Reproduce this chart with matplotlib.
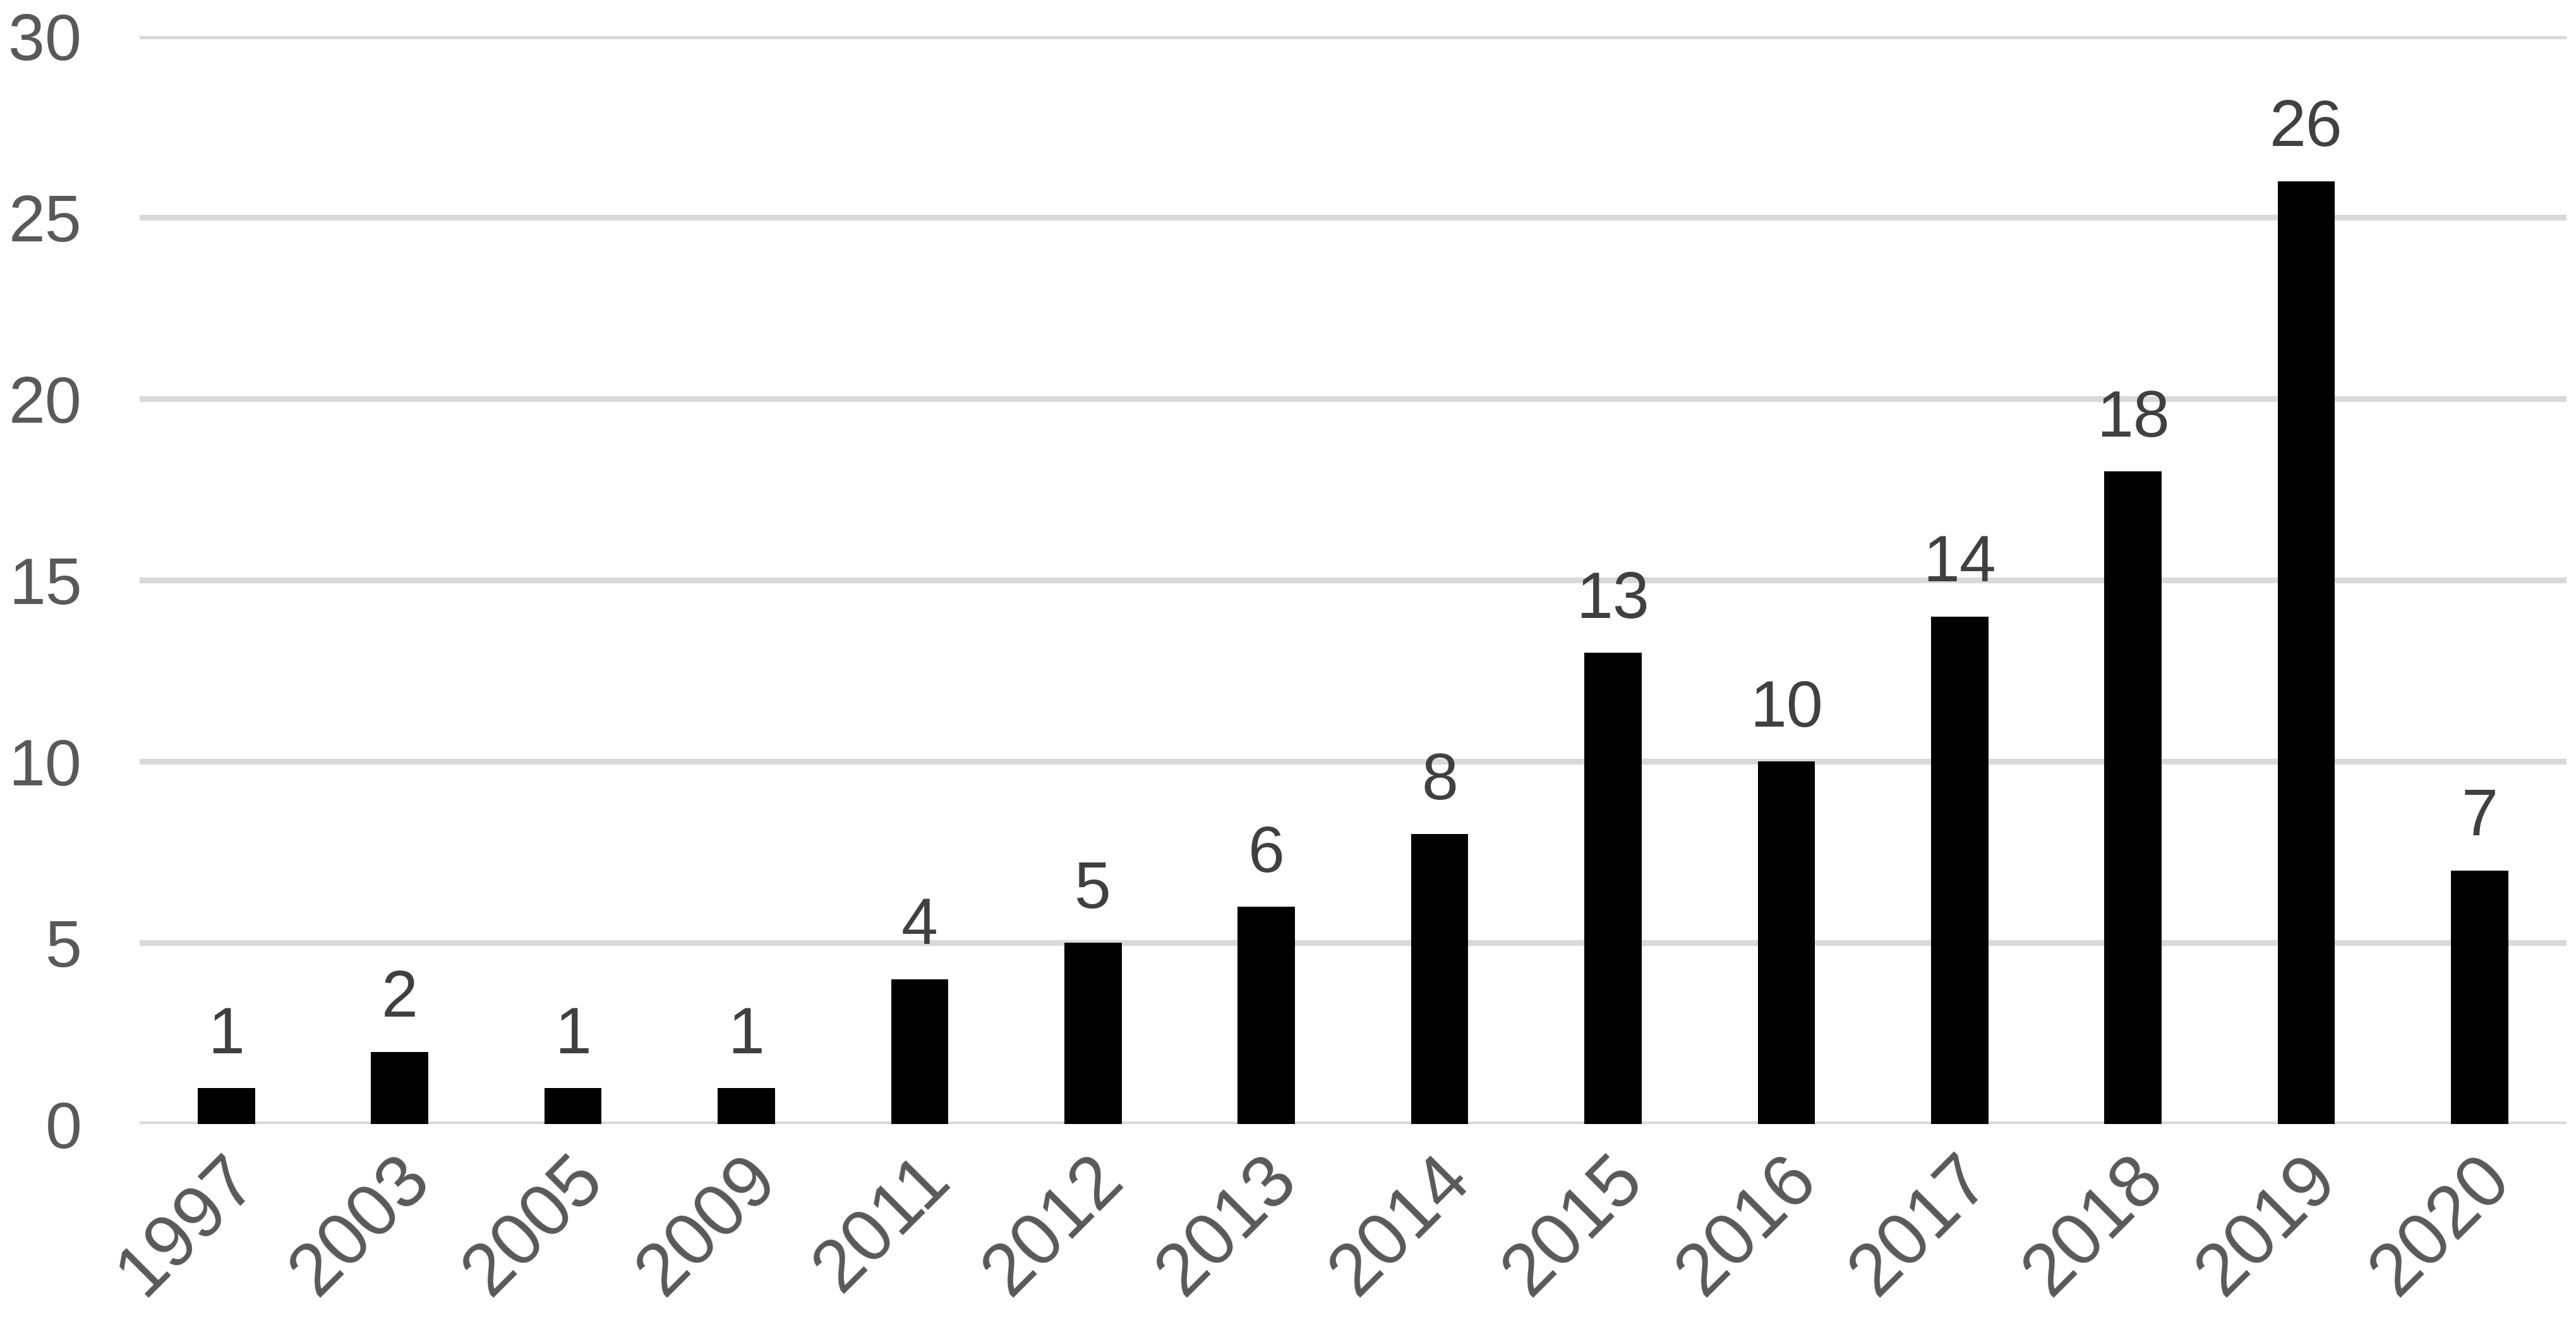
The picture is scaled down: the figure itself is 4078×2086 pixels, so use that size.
import matplotlib.pyplot as plt
import matplotlib.transforms as mtransforms

years = ['1997', '2003', '2005', '2009', '2011', '2012', '2013', '2014',
         '2015', '2016', '2017', '2018', '2019', '2020']
counts = [1, 2, 1, 1, 4, 5, 6, 8, 13, 10, 14, 18, 26, 7]

plt.rcParams['font.family'] = ['Liberation Sans', 'DejaVu Sans']

fig = plt.figure(figsize=(4079 / 300, 2086 / 300), dpi=300)
ax = fig.add_axes([0.0542, 0.147, 0.9418, 0.8256])

x = range(len(years))
bars = ax.bar(x, counts, width=0.33, color='black', zorder=3)

# etiquetas de valor encima de cada barra
for xi, v in zip(x, counts):
    ax.annotate(str(v), (xi, v), xytext=(0, 8), textcoords='offset points',
                ha='center', va='bottom', fontsize=25, color='#404040')

ax.set_xlim(-0.5, len(years) - 0.5)
ax.set_ylim(0, 30)
ax.set_yticks(range(0, 31, 5))
ax.yaxis.grid(True, color='#d9d9d9', linewidth=2.2, zorder=0)
ax.set_axisbelow(True)
for s in ax.spines.values():
    s.set_visible(False)

ax.tick_params(axis='both', length=0, labelcolor='#595959')
ax.tick_params(axis='y', pad=22, labelsize=25)
ax.tick_params(axis='x', labelsize=28)
ax.set_xticks(list(x))
ax.set_xticklabels(years, rotation=45, ha='right', rotation_mode='anchor')
off = mtransforms.ScaledTranslation(-2 / 72, -4 / 72, fig.dpi_scale_trans)
for lbl in ax.get_xticklabels():
    lbl.set_transform(lbl.get_transform() + off)

plt.savefig('out.png', dpi=300)
